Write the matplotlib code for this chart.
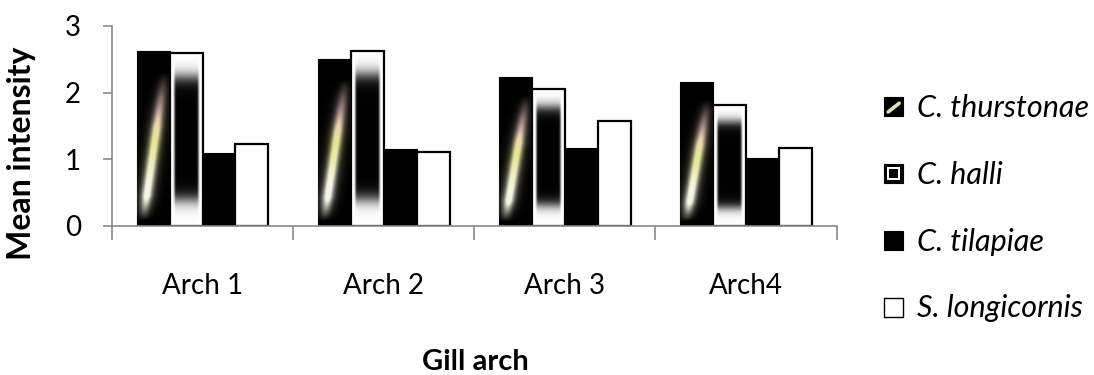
import numpy as np
import matplotlib
matplotlib.use("Agg")
import matplotlib.pyplot as plt
from matplotlib.patches import Rectangle
from matplotlib.lines import Line2D
from matplotlib.legend_handler import HandlerBase

plt.rcParams['font.family'] = ['Lato', 'DejaVu Sans']

# data
arches = ["Arch 1", "Arch 2", "Arch 3", "Arch4"]
species = ["C. thurstonae", "C. halli", "C. tilapiae", "S. longicornis"]
thurstonae = [2.62, 2.51, 2.23, 2.16]
halli = [2.59, 2.63, 2.06, 1.81]
tilapiae = [1.09, 1.15, 1.17, 1.01]
longicornis = [1.22, 1.11, 1.57, 1.16]
series = [thurstonae, halli, tilapiae, longicornis]
kinds = ["streak", "framed", "solid", "open"]

AXIS_GREY = "#8a8a8a"


def streak_image(n_v=220, n_u=60):
    """black bar with a soft diagonal glow, like the Excel texture fill"""
    v = np.linspace(0, 1, n_v)[:, None]
    u = np.linspace(0, 1, n_u)[None, :]
    centre = 0.2 + (v - 0.05) * (0.8 - 0.2) / (0.82 - 0.05)
    d = u - centre
    along = np.clip((v - 0.03) / 0.14, 0, 1) * np.clip((0.88 - v) / 0.32, 0, 1)
    core = np.exp(-(d / 0.15) ** 2) * along
    halo = 0.28 * np.exp(-(d / 0.3) ** 2) * along
    # colour shifts from white (bottom) to yellow to pinkish (top)
    low = np.array([0.96, 0.96, 0.90])
    mid = np.array([0.90, 0.90, 0.60])
    top = np.array([0.93, 0.80, 0.76])
    t = np.clip((v - 0.25) / 0.22, 0, 1)[..., None]
    t2 = np.clip((v - 0.5) / 0.15, 0, 1)[..., None]
    col = low * (1 - t) + mid * t
    col = col * (1 - t2) + top * t2
    inten = np.clip(0.9 * core + halo, 0, 1)[..., None]
    rgb = col * inten
    return np.clip(rgb, 0, 1)


def framed_image(n_v=220, n_u=60):
    """white bar with a soft-edged black core"""
    v = np.linspace(0, 1, n_v)[:, None]
    u = np.linspace(0, 1, n_u)[None, :]
    sig = lambda x, w: 1 / (1 + np.exp(-x / w))
    a_v = sig(v - 0.15, 0.025) * sig(0.865 - v, 0.025)
    a_u = sig(u - 0.13, 0.015) * sig(0.87 - u, 0.015)
    img = np.zeros((n_v, n_u, 4))
    img[..., 3] = a_v * a_u
    return img


class SwatchHandler(HandlerBase):
    def __init__(self, kind):
        super().__init__()
        self.kind = kind

    def create_artists(self, legend, orig_handle, xdescent, ydescent,
                       width, height, fontsize, trans):
        x0, y0 = -xdescent, -ydescent
        s = min(width, height)
        arts = []
        if self.kind == "open":
            arts.append(Rectangle((x0, y0), s, s, fc="white", ec="black", lw=1.0, transform=trans))
        else:
            arts.append(Rectangle((x0, y0), s, s, fc="black", ec="black", lw=0.8, transform=trans))
        if self.kind == "streak":
            arts.append(Line2D([x0 + 0.22 * s, x0 + 0.8 * s], [y0 + 0.22 * s, y0 + 0.68 * s],
                               color="#e2dcb8", lw=2.6, solid_capstyle="round", transform=trans))
        if self.kind == "framed":
            arts.append(Rectangle((x0 + 0.15 * s, y0 + 0.15 * s), 0.7 * s, 0.7 * s,
                                  fc="white", ec="none", transform=trans))
            arts.append(Rectangle((x0 + 0.28 * s, y0 + 0.28 * s), 0.44 * s, 0.44 * s,
                                  fc="black", ec="none", transform=trans))
        return arts


fig = plt.figure(figsize=(10.94, 3.75), dpi=100)
ax = fig.add_axes([112 / 1094, 1 - 225.7 / 375, 724.5 / 1094, 199.7 / 375])

x = np.arange(len(arches))
w = 1 / 5.5  # Excel gap width 150%
streak = streak_image()
framed = framed_image()

handles = []
for i, (vals, kind) in enumerate(zip(series, kinds)):
    pos = x + (i - 1.5) * w
    if kind in ("streak", "solid"):
        bars = ax.bar(pos, vals, w, color="black", edgecolor="black", linewidth=0.8, zorder=2)
    else:
        bars = ax.bar(pos, vals, w, color="white", edgecolor="black", linewidth=1.6, zorder=2)
    for b in bars:
        bx, bw, bh = b.get_x(), b.get_width(), b.get_height()
        if kind == "streak":
            im = ax.imshow(streak, extent=(bx, bx + bw, 0, bh), origin="lower",
                           aspect="auto", interpolation="bilinear", zorder=2.5)
            im.set_clip_path(b)
        elif kind == "framed":
            im = ax.imshow(framed, extent=(bx, bx + bw, 0, bh), origin="lower",
                           aspect="auto", interpolation="bilinear", zorder=2.5)
            im.set_clip_path(b)
    handles.append(bars)

ax.set_xlim(-0.5, 3.5)
ax.set_ylim(0, 3)
ax.set_aspect("auto")

for side in ("top", "right"):
    ax.spines[side].set_visible(False)
for side in ("left", "bottom"):
    ax.spines[side].set_color(AXIS_GREY)
    ax.spines[side].set_linewidth(1.2)

ax.set_yticks([0, 1, 2, 3])
ax.tick_params(axis="y", direction="out", length=6.5, width=1.2, color=AXIS_GREY,
               labelsize=20, pad=16)
ax.set_xticks(np.arange(-0.5, 4, 1.0))
ax.set_xticklabels([])
ax.tick_params(axis="x", which="major", direction="out", length=10, width=1.2, color=AXIS_GREY)
ax.set_xticks(x, arches, minor=True)
ax.tick_params(axis="x", which="minor", length=0, labelsize=20, pad=34)

fig.text(475 / 1094, 1 - 370 / 375, "Gill arch", ha="center", va="baseline",
         fontsize=21, fontweight="bold")
fig.text(22 / 1094, 1 - 153 / 375, "Mean intensity", ha="center", va="center",
         rotation=90, fontsize=23, fontweight="bold")

hmap = {h: SwatchHandler(k) for h, k in zip(handles, kinds)}
fig.legend(handles, species, loc="upper left", bbox_to_anchor=(884 / 1094, 1 - 94 / 375),
           frameon=False, prop={"style": "italic", "size": 22}, handler_map=hmap,
           handlelength=0.62, handleheight=0.62, handletextpad=0.45, labelspacing=1.27,
           borderaxespad=0, borderpad=0)

fig.savefig("out.png", dpi=100)
